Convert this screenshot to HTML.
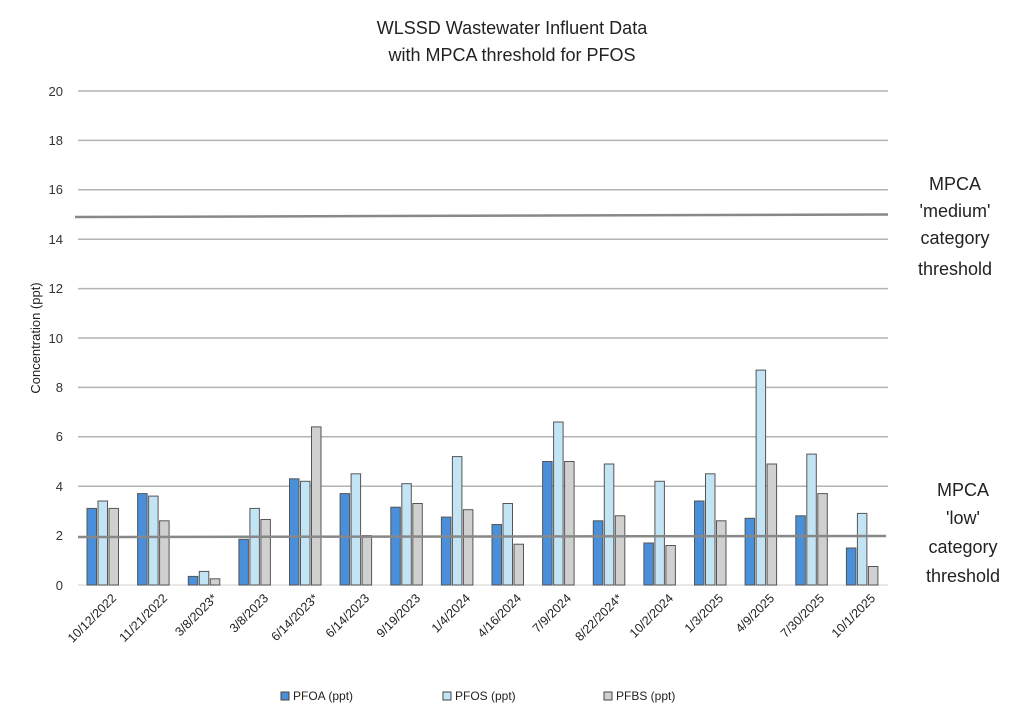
<!DOCTYPE html>
<html><head><meta charset="utf-8"><style>
html,body{margin:0;padding:0;background:#fff}
svg{display:block;font-family:"Liberation Sans",sans-serif}
</style></head><body>
<svg width="1024" height="719" viewBox="0 0 1024 719" xmlns="http://www.w3.org/2000/svg">
<rect width="1024" height="719" fill="#fff"/>
<text x="512" y="34" font-size="18" text-anchor="middle" fill="#222">WLSSD Wastewater Influent Data</text>
<text x="512" y="61" font-size="18" text-anchor="middle" fill="#222">with MPCA threshold for PFOS</text>
<g stroke="#b3b3b3" stroke-width="1.5">
<line x1="78" y1="91" x2="888" y2="91"/><line x1="78" y1="140.4" x2="888" y2="140.4"/>
<line x1="78" y1="189.8" x2="888" y2="189.8"/><line x1="78" y1="239.2" x2="888" y2="239.2"/>
<line x1="78" y1="288.6" x2="888" y2="288.6"/><line x1="78" y1="338" x2="888" y2="338"/>
<line x1="78" y1="387.4" x2="888" y2="387.4"/><line x1="78" y1="436.8" x2="888" y2="436.8"/>
<line x1="78" y1="486.2" x2="888" y2="486.2"/>
</g>
<line x1="78" y1="585" x2="888" y2="585" stroke="#e0e0e0" stroke-width="1.5"/>
<g font-size="13" fill="#333" text-anchor="end">
<text x="63" y="96">20</text><text x="63" y="145">18</text><text x="63" y="194">16</text>
<text x="63" y="244">14</text><text x="63" y="293">12</text><text x="63" y="343">10</text>
<text x="63" y="392">8</text><text x="63" y="441">6</text><text x="63" y="491">4</text>
<text x="63" y="540">2</text><text x="63" y="590">0</text>
</g>
<text transform="translate(40,338) rotate(-90)" font-size="13" fill="#222" text-anchor="middle">Concentration (ppt)</text>
<g transform="translate(0,585) scale(1,-1)" stroke="#555" stroke-width="1">
<g fill="#4a8fd9">
<rect x="87" y="0" width="9.5" height="76.6"/><rect x="137.6" y="0" width="9.5" height="91.4"/>
<rect x="188.3" y="0" width="9.5" height="8.6"/><rect x="238.9" y="0" width="9.5" height="45.7"/>
<rect x="289.5" y="0" width="9.5" height="106.2"/><rect x="340.1" y="0" width="9.5" height="91.4"/>
<rect x="390.8" y="0" width="9.5" height="77.8"/><rect x="441.4" y="0" width="9.5" height="67.9"/>
<rect x="492" y="0" width="9.5" height="60.5"/><rect x="542.6" y="0" width="9.5" height="123.5"/>
<rect x="593.3" y="0" width="9.5" height="64.2"/><rect x="643.9" y="0" width="9.5" height="42"/>
<rect x="694.5" y="0" width="9.5" height="84"/><rect x="745.1" y="0" width="9.5" height="66.7"/>
<rect x="795.8" y="0" width="9.5" height="69.2"/><rect x="846.4" y="0" width="9.5" height="37"/>
</g>
<g fill="#c3e4f5">
<rect x="98" y="0" width="9.5" height="84"/><rect x="148.6" y="0" width="9.5" height="88.9"/>
<rect x="199.3" y="0" width="9.5" height="13.6"/><rect x="249.9" y="0" width="9.5" height="76.6"/>
<rect x="300.5" y="0" width="9.5" height="103.7"/><rect x="351.1" y="0" width="9.5" height="111.2"/>
<rect x="401.8" y="0" width="9.5" height="101.3"/><rect x="452.4" y="0" width="9.5" height="128.4"/>
<rect x="503" y="0" width="9.5" height="81.5"/><rect x="553.6" y="0" width="9.5" height="163"/>
<rect x="604.3" y="0" width="9.5" height="121"/><rect x="654.9" y="0" width="9.5" height="103.7"/>
<rect x="705.5" y="0" width="9.5" height="111.2"/><rect x="756.1" y="0" width="9.5" height="214.9"/>
<rect x="806.8" y="0" width="9.5" height="130.9"/><rect x="857.4" y="0" width="9.5" height="71.6"/>
</g>
<g fill="#d0d0d0">
<rect x="109" y="0" width="9.5" height="76.6"/><rect x="159.6" y="0" width="9.5" height="64.2"/>
<rect x="210.3" y="0" width="9.5" height="6.2"/><rect x="260.9" y="0" width="9.5" height="65.5"/>
<rect x="311.5" y="0" width="9.5" height="158.1"/><rect x="362.1" y="0" width="9.5" height="49.4"/>
<rect x="412.8" y="0" width="9.5" height="81.5"/><rect x="463.4" y="0" width="9.5" height="75.3"/>
<rect x="514" y="0" width="9.5" height="40.8"/><rect x="564.6" y="0" width="9.5" height="123.5"/>
<rect x="615.3" y="0" width="9.5" height="69.2"/><rect x="665.9" y="0" width="9.5" height="39.5"/>
<rect x="716.5" y="0" width="9.5" height="64.2"/><rect x="767.1" y="0" width="9.5" height="121"/>
<rect x="817.8" y="0" width="9.5" height="91.4"/><rect x="868.4" y="0" width="9.5" height="18.5"/>
</g>
</g>
<line x1="78" y1="537" x2="886" y2="536" stroke="#888" stroke-width="2.5"/>
<line x1="75" y1="217" x2="888" y2="214.5" stroke="#888" stroke-width="2.5"/>
<g font-size="18" fill="#222" text-anchor="middle">
<text x="955" y="190">MPCA</text><text x="955" y="217">'medium'</text>
<text x="955" y="244">category</text><text x="955" y="275">threshold</text>
<text x="963" y="496">MPCA</text><text x="963" y="524">'low'</text>
<text x="963" y="553">category</text><text x="963" y="582">threshold</text>
</g>
<g font-size="12.5" fill="#222" text-anchor="end">
<text transform="translate(117,599) rotate(-45)">10/12/2022</text>
<text transform="translate(168,599) rotate(-45)">11/21/2022</text>
<text transform="translate(218,599) rotate(-45)">3/8/2023*</text>
<text transform="translate(269,599) rotate(-45)">3/8/2023</text>
<text transform="translate(319,599) rotate(-45)">6/14/2023*</text>
<text transform="translate(370,599) rotate(-45)">6/14/2023</text>
<text transform="translate(421,599) rotate(-45)">9/19/2023</text>
<text transform="translate(471,599) rotate(-45)">1/4/2024</text>
<text transform="translate(522,599) rotate(-45)">4/16/2024</text>
<text transform="translate(572,599) rotate(-45)">7/9/2024</text>
<text transform="translate(623,599) rotate(-45)">8/22/2024*</text>
<text transform="translate(674,599) rotate(-45)">10/2/2024</text>
<text transform="translate(724,599) rotate(-45)">1/3/2025</text>
<text transform="translate(775,599) rotate(-45)">4/9/2025</text>
<text transform="translate(825,599) rotate(-45)">7/30/2025</text>
<text transform="translate(876,599) rotate(-45)">10/1/2025</text>
</g>
<g font-size="12" fill="#222" stroke-width="1">
<rect x="281" y="692" width="8" height="8" fill="#4a8fd9" stroke="#444"/><text x="293" y="700">PFOA (ppt)</text>
<rect x="443" y="692" width="8" height="8" fill="#c3e4f5" stroke="#444"/><text x="455" y="700">PFOS (ppt)</text>
<rect x="604" y="692" width="8" height="8" fill="#d0d0d0" stroke="#444"/><text x="616" y="700">PFBS (ppt)</text>
</g>
</svg>
</body></html>
